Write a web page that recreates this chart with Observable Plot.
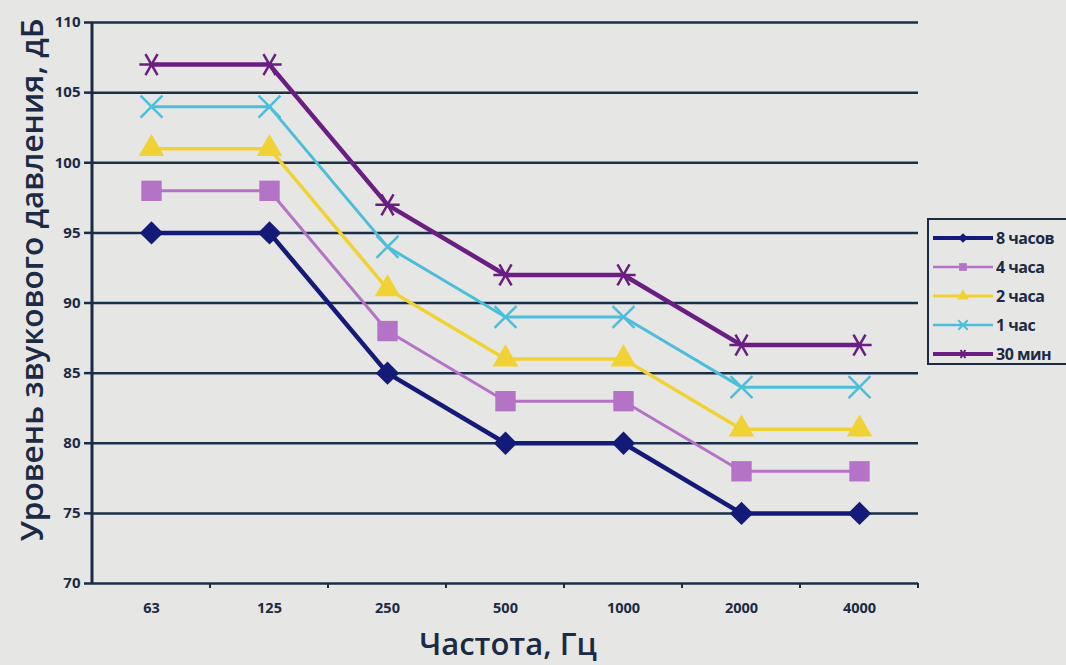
<!DOCTYPE html>
<html><head><meta charset="utf-8">
<script src="https://cdn.jsdelivr.net/npm/d3@7"></script>
<script src="https://cdn.jsdelivr.net/npm/@observablehq/plot@0.6"></script>
<style>
html,body{margin:0;padding:0;background:#e6e6e4;}
#wrap{position:relative;width:1066px;height:665px;overflow:hidden;font-family:"Open Sans",sans-serif;color:#1b2a45;}
#chart svg{display:block;background:#e6e6e4;}
#ylabel{position:absolute;left:30px;top:280px;transform:translate(-50%,-50%) rotate(-90deg);white-space:nowrap;font-size:31.5px;font-weight:600;}
#xlabel{position:absolute;left:508px;top:643px;transform:translate(-50%,-50%);white-space:nowrap;font-size:31px;font-weight:600;}
#legend{position:absolute;left:927px;top:218px;width:139px;height:147px;border:2.5px solid #1b2a45;border-right:none;box-sizing:border-box;padding-top:3px;}
.row{display:flex;align-items:center;height:29px;}
.row span{font-size:16px;font-weight:700;margin-left:1px;letter-spacing:-0.5px;}
</style></head>
<body>
<div id="wrap">
  <div id="chart"></div>
  <div id="ylabel"></div>
  <div id="xlabel"></div>
  <div id="legend"></div>
</div>
<script>
const frequencies = ["63","125","250","500","1000","2000","4000"];
const seriesNames = ["8 часов","4 часа","2 часа","1 час","30 мин"];
const values8h  = [95, 95, 85, 80, 80, 75, 75];
const values4h  = [98, 98, 88, 83, 83, 78, 78];
const values2h  = [101, 101, 91, 86, 86, 81, 81];
const values1h  = [104, 104, 94, 89, 89, 84, 84];
const values30m = [107, 107, 97, 92, 92, 87, 87];
const yTicks = [70, 75, 80, 85, 90, 95, 100, 105, 110];
const yLabel = "Уровень звукового давления, дБ";
const xLabel = "Частота, Гц";

const seriesValues = [values8h, values4h, values2h, values1h, values30m];
const seriesColors = ["#141a78", "#b473c6", "#f1d234", "#4cbedb", "#6b1e82"];
const seriesSymbols = ["diamond2", "square", "triangle", "times", "asterisk"];
const seriesRotate = [0, 0, 0, 0, 90];
const seriesWidths = [4.5, 3, 3.5, 3, 4.5];
const seriesR = [10.5, 11.5, 9.5, 10, 11.5];
const seriesFilled = [true, true, true, false, false];
const ink = "#1b2a45";
const gridColor = "#183048";

document.getElementById("ylabel").textContent = yLabel;
document.getElementById("xlabel").textContent = xLabel;

const axisLines = (index, scales, values, dim) => {
  const g = d3.create("svg:g");
  const x = scales.x, y = scales.y;
  const step = x(frequencies[1]) - x(frequencies[0]);
  const left = dim.marginLeft, bottom = y(yTicks[0]), top = y(yTicks[yTicks.length-1]);
  g.append("line").attr("x1", left).attr("x2", left).attr("y1", top).attr("y2", bottom + 1)
    .attr("stroke", ink).attr("stroke-width", 3);
  frequencies.forEach(f => {
    const xb = x(f) + step / 2;
    g.append("line").attr("x1", xb).attr("x2", xb).attr("y1", bottom).attr("y2", bottom + 5)
      .attr("stroke", ink).attr("stroke-width", 2);
  });
  return g.node();
};

const marks = [
  Plot.ruleY(yTicks, {stroke: gridColor, strokeWidth: 2.5}),
  axisLines,
  Plot.axisY(yTicks, {tickSize: 8, tickPadding: 4, fontSize: 15, fontWeight: 700, stroke: ink, strokeWidth: 2.5, fill: ink, label: null}),
  Plot.axisX({tickSize: 0, tickPadding: 19, fontSize: 14.5, fontWeight: 700, fill: ink, label: null})
];

seriesNames.forEach((name, i) => {
  const data = frequencies.map((f, j) => ({f, v: seriesValues[i][j], s: name}));
  marks.push(Plot.line(data, {x: "f", y: "v", stroke: seriesColors[i], strokeWidth: seriesWidths[i]}));
  marks.push(Plot.dot(data, {
    x: "f", y: "v", symbol: seriesSymbols[i], r: seriesR[i], rotate: seriesRotate[i],
    fill: seriesFilled[i] ? seriesColors[i] : "none",
    stroke: seriesColors[i],
    strokeWidth: seriesFilled[i] ? 0 : 2.5
  }));
});

const chart = Plot.plot({
  width: 1066,
  height: 665,
  marginLeft: 92,
  marginRight: 148,
  marginTop: 22,
  marginBottom: 82,
  style: {background: "#e6e6e4", fontFamily: "Open Sans, sans-serif", color: ink},
  x: {type: "point", domain: frequencies, padding: 0.5, label: null},
  y: {domain: [70, 110], label: null},
  marks
});
document.getElementById("chart").appendChild(chart);

// legend
const legend = d3.select("#legend");
const symbolMap = {diamond2: d3.symbolDiamond2, square: d3.symbolSquare, triangle: d3.symbolTriangle, times: d3.symbolTimes, asterisk: d3.symbolAsterisk};
seriesNames.forEach((name, i) => {
  const row = legend.append("div").attr("class", "row");
  const svg = row.append("svg").attr("width", 66).attr("height", 22);
  svg.append("line").attr("x1", 4).attr("x2", 64).attr("y1", 11).attr("y2", 11)
    .attr("stroke", seriesColors[i]).attr("stroke-width", seriesWidths[i] - 0.5);
  svg.append("path").attr("transform", `translate(34,11) rotate(${seriesRotate[i]})`)
    .attr("d", d3.symbol(symbolMap[seriesSymbols[i]], 60)())
    .attr("fill", seriesFilled[i] ? seriesColors[i] : "none")
    .attr("stroke", seriesColors[i]).attr("stroke-width", seriesFilled[i] ? 0 : 2);
  row.append("span").text(name);
});
</script>
</body></html>
